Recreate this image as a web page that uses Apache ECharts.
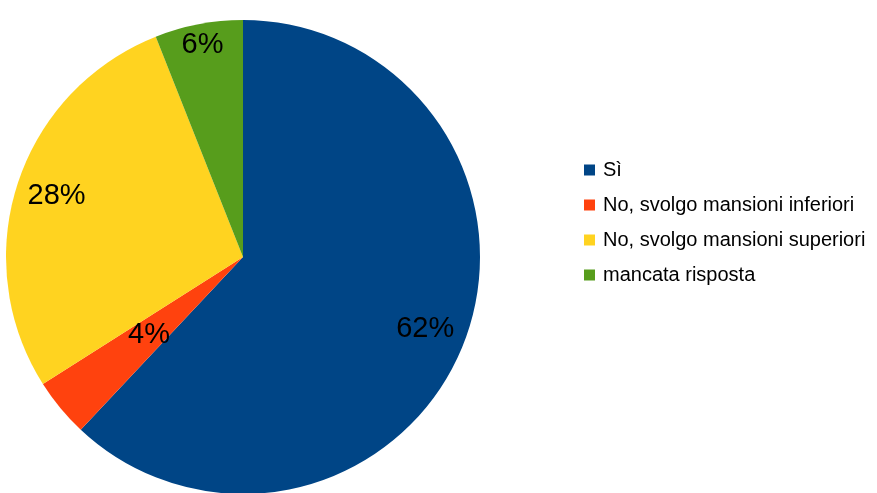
<!DOCTYPE html>
<html>
<head>
<meta charset="utf-8">
<script src="https://cdn.jsdelivr.net/npm/echarts@6/dist/echarts.min.js"></script>
<style>
html,body{margin:0;padding:0;background:#fff;}
#chart{width:877px;height:493px;}
</style>
</head>
<body>
<div id="chart"></div>
<script>
const categories = ['Sì', 'No, svolgo mansioni inferiori', 'No, svolgo mansioni superiori', 'mancata risposta'];
const values = [62, 4, 28, 6];
const colors = ['#004586', '#ff420e', '#ffd320', '#579d1c'];
// label ring (LibreOffice best-fit placement): which ring each slice label uses
const labelRing = ['outer', 'inner', 'outer', 'edge'];

const chart = echarts.init(document.getElementById('chart'), null, {renderer: 'canvas'});

const center = [243, 257];
const R = 237;

function labelSeries(ring, radius) {
  return {
    type: 'pie',
    center: center,
    radius: radius,
    startAngle: 90,
    clockwise: true,
    silent: true,
    avoidLabelOverlap: false,
    animation: false,
    emphasis: {disabled: true},
    labelLine: {show: false},
    data: categories.map((c, i) => ({
      name: c,
      value: values[i],
      itemStyle: {color: 'rgba(0,0,0,0)'},
      label: {show: labelRing[i] === ring}
    })),
    label: {
      position: 'inside',
      formatter: '{c}%',
      color: '#000',
      fontSize: 29,
      fontFamily: 'Liberation Sans, Arial, sans-serif'
    }
  };
}

const option = {
  backgroundColor: '#fff',
  animation: false,
  color: colors,
  legend: {
    orient: 'vertical',
    left: 579,
    top: 155,
    itemWidth: 11,
    itemHeight: 11,
    itemGap: 15,
    icon: 'rect',
    data: categories,
    textStyle: {
      fontSize: 20,
      color: '#000',
      fontFamily: 'Liberation Sans, Arial, sans-serif',
      padding: [0, 0, 0, 3]
    }
  },
  series: [
    {
      type: 'pie',
      center: center,
      radius: [0, R],
      startAngle: 90,
      clockwise: true,
      avoidLabelOverlap: false,
      label: {show: false},
      labelLine: {show: false},
      itemStyle: {borderWidth: 0},
      emphasis: {disabled: true},
      data: categories.map((c, i) => ({name: c, value: values[i]}))
    },
    labelSeries('outer', [173, 213]),
    labelSeries('edge', [193, 233]),
    labelSeries('inner', [99, 139])
  ]
};
chart.setOption(option);
</script>
</body>
</html>
